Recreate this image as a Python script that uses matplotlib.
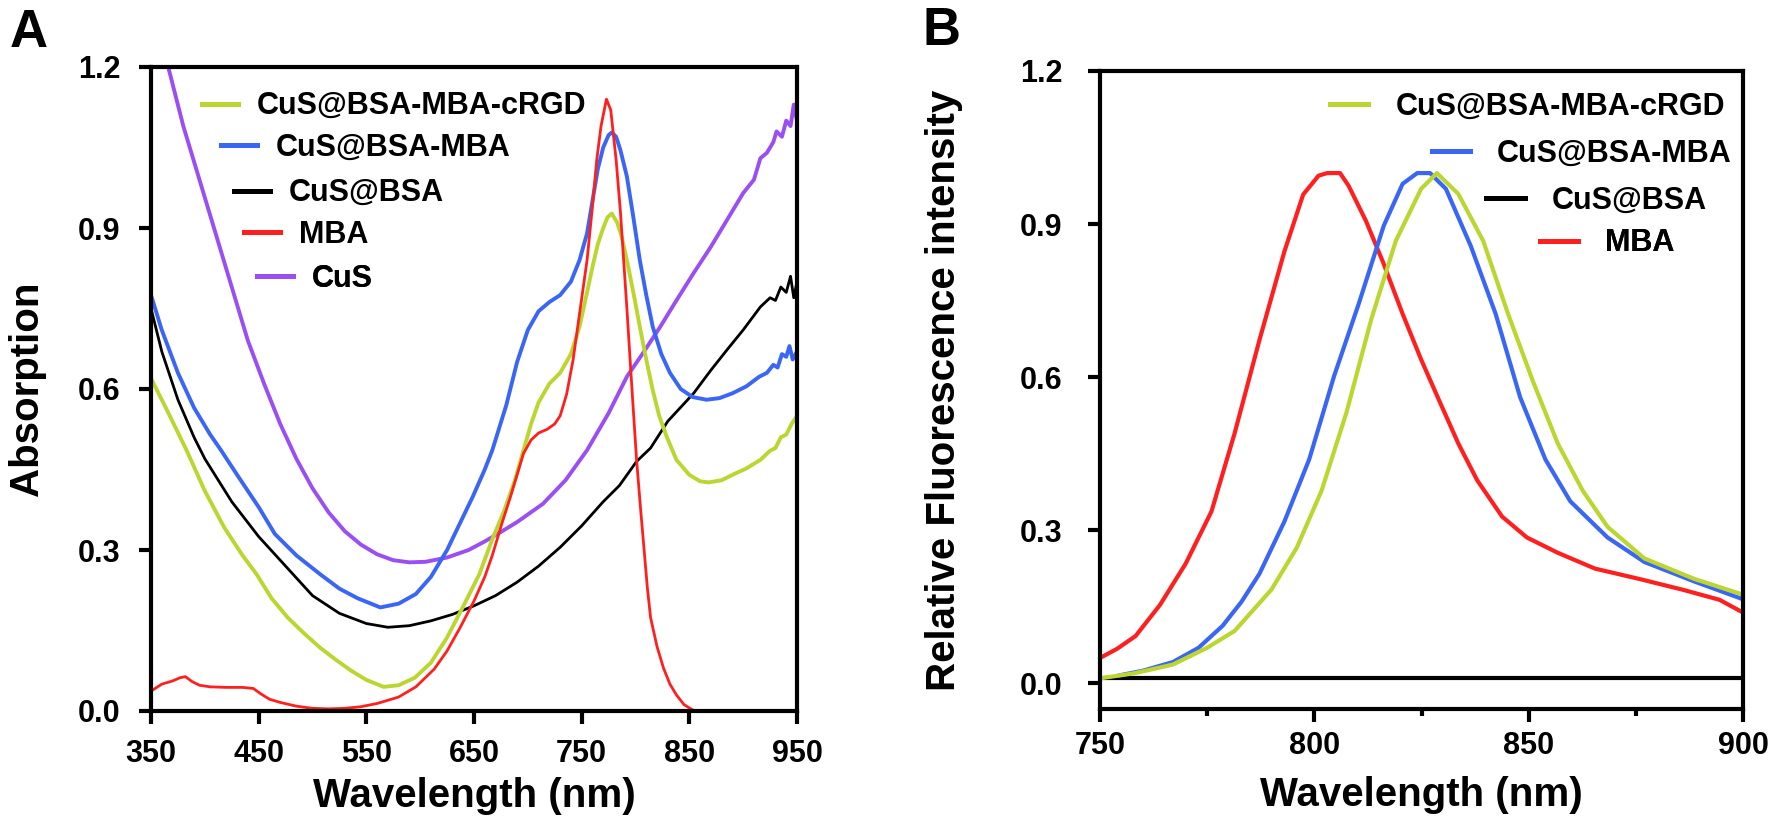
import matplotlib
matplotlib.use("Agg")
from matplotlib import pyplot as plt
from matplotlib.lines import Line2D
from matplotlib.ticker import MultipleLocator, FixedLocator

plt.rcParams['font.family'] = ['Liberation Sans', 'DejaVu Sans']
plt.rcParams['font.weight'] = 'bold'

green = "#bcd631"
blue = "#3a66f5"
purple = "#9b4ff2"
red = "#ff1f1f"
black = "#000000"

# ---- panel A: absorption spectra ----
cus_wl = [350, 358, 366, 380, 395, 410, 425, 440, 455, 470, 485, 500, 515, 530, 545, 560, 575, 590,
          605, 625, 645, 660, 672, 690, 714, 735, 755, 775, 792, 808, 823, 838, 854, 870, 885, 900,
          910, 916, 922, 928, 931, 936, 940, 944, 947, 950]
cus_abs = [1.33, 1.26, 1.20, 1.09, 0.99, 0.89, 0.79, 0.69, 0.61, 0.535, 0.47, 0.415, 0.37, 0.335, 0.31,
           0.292, 0.281, 0.277, 0.278, 0.286, 0.30, 0.316, 0.33, 0.352, 0.386, 0.43, 0.486, 0.555,
           0.623, 0.67, 0.716, 0.765, 0.816, 0.865, 0.915, 0.965, 0.99, 1.03, 1.04, 1.06, 1.08, 1.07,
           1.10, 1.09, 1.13, 1.10]

bsa_wl = [350, 360, 375, 390, 400, 425, 450, 475, 500, 525, 550, 570, 590, 610, 630, 650, 670, 690,
          710, 730, 750, 770, 785, 801, 814, 830, 854, 870, 885, 900, 916, 925, 930, 935, 940, 944,
          947, 950]
bsa_abs = [0.75, 0.67, 0.58, 0.51, 0.47, 0.39, 0.325, 0.27, 0.215, 0.182, 0.163, 0.156, 0.159, 0.168,
           0.18, 0.196, 0.215, 0.24, 0.27, 0.305, 0.345, 0.39, 0.42, 0.465, 0.49, 0.54, 0.592, 0.635,
           0.673, 0.71, 0.753, 0.77, 0.765, 0.79, 0.78, 0.81, 0.77, 0.80]

mba_wl_a = [350, 360, 370, 377, 382, 388, 395, 405, 420, 435, 445, 452, 460, 470, 485, 500, 515, 530,
            545, 560, 580, 596, 613, 625, 637, 650, 660, 667, 676, 684, 690, 696, 703, 710, 718, 725,
            730, 736, 742, 748, 755, 760, 764, 768, 773, 777, 782, 786, 789, 792, 795, 798, 801, 805,
            808, 811, 814, 820, 826, 832, 838, 845, 853, 857]
mba_abs = [0.037, 0.05, 0.056, 0.062, 0.064, 0.055, 0.048, 0.045, 0.044, 0.044, 0.042, 0.032, 0.022,
           0.016, 0.009, 0.005, 0.004, 0.005, 0.008, 0.014, 0.026, 0.045, 0.078, 0.112, 0.155, 0.205,
           0.25, 0.29, 0.35, 0.40, 0.44, 0.48, 0.505, 0.518, 0.525, 0.535, 0.55, 0.59, 0.654, 0.74,
           0.84, 0.94, 1.027, 1.09, 1.14, 1.12, 1.027, 0.93, 0.84, 0.75, 0.654, 0.56, 0.468, 0.37,
           0.30, 0.23, 0.174, 0.12, 0.08, 0.05, 0.03, 0.012, 0.002, 0.0]

mbaconj_wl = [350, 360, 375, 390, 405, 415, 430, 450, 465, 485, 507, 525, 542, 563, 580, 596, 610,
              625, 637, 649, 660, 667, 680, 690, 700, 710, 720, 730, 740, 748, 755, 760, 765, 770,
              775, 778, 782, 786, 792, 798, 804, 810, 816, 824, 832, 842, 853, 866, 878, 890, 903,
              915, 922, 928, 932, 936, 940, 943, 946, 950]
mbaconj_abs = [0.775, 0.71, 0.63, 0.565, 0.515, 0.486, 0.44, 0.38, 0.33, 0.29, 0.255, 0.228, 0.21,
               0.193, 0.2, 0.218, 0.25, 0.30, 0.35, 0.40, 0.45, 0.486, 0.57, 0.65, 0.71, 0.745,
               0.762, 0.775, 0.80, 0.84, 0.89, 0.95, 1.01, 1.05, 1.073, 1.078, 1.07, 1.045, 0.996,
               0.92, 0.84, 0.775, 0.716, 0.665, 0.63, 0.60, 0.585, 0.58, 0.583, 0.592, 0.605, 0.623,
               0.63, 0.645, 0.64, 0.665, 0.66, 0.68, 0.655, 0.67]

rgd_wl = [350, 365, 383, 400, 418, 435, 448, 462, 477, 492, 507, 522, 536, 550, 566, 580, 595, 610,
          625, 640, 655, 667, 678, 688, 696, 703, 710, 720, 730, 740, 748, 755, 760, 765, 770, 774,
          778, 783, 787, 792, 798, 804, 810, 816, 822, 829, 838, 850, 860, 868, 880, 890, 903, 916,
          925, 930, 935, 940, 945, 950]
rgd_abs = [0.62, 0.56, 0.486, 0.41, 0.342, 0.29, 0.255, 0.21, 0.174, 0.145, 0.118, 0.095, 0.075,
           0.058, 0.045, 0.048, 0.062, 0.09, 0.137, 0.195, 0.255, 0.32, 0.373, 0.43, 0.486, 0.535,
           0.575, 0.61, 0.63, 0.665, 0.716, 0.78, 0.827, 0.87, 0.90, 0.92, 0.927, 0.91, 0.885,
           0.84, 0.78, 0.716, 0.655, 0.598, 0.55, 0.511, 0.468, 0.44, 0.428, 0.426, 0.43, 0.44,
           0.452, 0.468, 0.485, 0.49, 0.51, 0.515, 0.535, 0.55]

abs_xticks = [350, 450, 550, 650, 750, 850, 950]

# ---- panel B: fluorescence spectra ----
fl_mba_wl = [750, 754, 758.3, 764, 770, 776, 781.4, 787.2, 793, 797.4, 801, 803, 806, 808, 812, 816,
             820.6, 825, 829.3, 833.6, 838, 843.8, 849.6, 856.8, 865.5, 875.7, 885.8, 894.5, 900]
fl_mba = [0.05, 0.068, 0.093, 0.154, 0.235, 0.337, 0.49, 0.673, 0.846, 0.958, 0.995, 1.0, 1.0, 0.975,
          0.907, 0.826, 0.724, 0.633, 0.551, 0.47, 0.398, 0.327, 0.286, 0.256, 0.225, 0.205, 0.184,
          0.164, 0.139]

fl_conj_wl = [754.6, 760, 767, 773, 778.6, 783, 787.2, 793, 798.8, 804.6, 810.4, 816.2, 820.6, 824,
              827, 830.7, 836.5, 842.3, 848, 853.9, 859.7, 868.4, 877, 888.6, 900]
fl_conj = [0.016, 0.025, 0.042, 0.07, 0.113, 0.16, 0.215, 0.317, 0.439, 0.602, 0.745, 0.897, 0.979,
           1.0, 1.0, 0.969, 0.857, 0.724, 0.561, 0.439, 0.357, 0.286, 0.238, 0.2, 0.165]

fl_rgd_wl = [750, 758, 767, 775, 781.4, 790, 795.9, 801.7, 807.5, 813.3, 819, 824.9, 828.6, 833.6,
             839.4, 845.2, 851, 856.8, 862.6, 868.4, 877, 888.6, 900]
fl_rgd = [0.01, 0.02, 0.037, 0.07, 0.103, 0.184, 0.266, 0.378, 0.531, 0.714, 0.867, 0.969, 1.0, 0.959,
          0.867, 0.724, 0.592, 0.47, 0.378, 0.307, 0.245, 0.205, 0.174]

fl_bsa_wl = [750, 900]
fl_bsa = [0.01, 0.01]

label_font = dict(family=['Liberation Sans', 'DejaVu Sans'], weight='bold', size=22)


def add_key(ax, label, color, x, y, hl, pad):
    h = Line2D([], [], color=color, lw=3.6)
    leg = ax.legend(handles=[h], labels=[label], loc='center left', bbox_to_anchor=(x, y),
                    frameon=False, borderpad=0, borderaxespad=0, handlelength=hl,
                    handletextpad=pad, prop=label_font)
    ax.add_artist(leg)


def style_axes(ax, xpad, ypad):
    for s in ax.spines.values():
        s.set_linewidth(3)
    ax.tick_params(axis='both', which='major', direction='out', length=9, width=3, labelsize=22,
                   top=False, right=False)
    ax.tick_params(axis='x', pad=xpad)
    ax.tick_params(axis='y', pad=ypad)
    for t in ax.get_xticklabels() + ax.get_yticklabels():
        t.set_fontweight('bold')


fig = plt.figure(figsize=(17.72, 8.18), dpi=100)
axA = fig.add_axes([151 / 1772, 107 / 818, 646 / 1772, 644 / 818])
axB = fig.add_axes([1100 / 1772, 109 / 818, 643 / 1772, 638 / 818])

# panel A
axA.plot(cus_wl, cus_abs, color=purple, lw=2.8)
axA.plot(bsa_wl, bsa_abs, color=black, lw=2.0)
axA.plot(mbaconj_wl, mbaconj_abs, color=blue, lw=2.8)
axA.plot(rgd_wl, rgd_abs, color=green, lw=2.8)
axA.plot(mba_wl_a, mba_abs, color=red, lw=2.0)
axA.set_xlim(350, 950)
axA.set_ylim(0, 1.2)
axA.xaxis.set_major_locator(FixedLocator(abs_xticks))
axA.yaxis.set_major_locator(MultipleLocator(0.3))
axA.yaxis.set_major_formatter(matplotlib.ticker.FormatStrFormatter('%.1f'))
style_axes(axA, 11, 13)
axA.set_xlabel("Wavelength (nm)", fontsize=29, fontweight='bold')
axA.set_ylabel("Absorption", fontsize=29, fontweight='bold')
axA.xaxis.set_label_coords(0.5, -0.1025)
axA.yaxis.set_label_coords(-0.1625, 0.5)

add_key(axA, "CuS@BSA-MBA-cRGD", green, 0.079, 0.939, 1.18, 0.62)
add_key(axA, "CuS@BSA-MBA", blue, 0.108, 0.874, 1.18, 0.62)
add_key(axA, "CuS@BSA", black, 0.128, 0.804, 1.18, 0.62)
add_key(axA, "MBA", red, 0.144, 0.739, 1.18, 0.62)
add_key(axA, "CuS", purple, 0.164, 0.671, 1.18, 0.62)

# panel B
axB.plot(fl_bsa_wl, fl_bsa, color=black, lw=3.0)
axB.plot(fl_mba_wl, fl_mba, color=red, lw=3.0)
axB.plot(fl_conj_wl, fl_conj, color=blue, lw=3.0)
axB.plot(fl_rgd_wl, fl_rgd, color=green, lw=3.0)
axB.set_xlim(750, 900)
axB.set_ylim(-0.05, 1.2)
axB.xaxis.set_major_locator(MultipleLocator(50))
axB.xaxis.set_minor_locator(FixedLocator([775, 825, 875]))
axB.yaxis.set_major_locator(FixedLocator([0.0, 0.3, 0.6, 0.9, 1.2]))
axB.yaxis.set_major_formatter(matplotlib.ticker.FormatStrFormatter('%.1f'))
style_axes(axB, 7, 18)
axB.tick_params(axis='x', which='minor', direction='out', length=5, width=3, top=False)
axB.set_xlabel("Wavelength (nm)", fontsize=29, fontweight='bold')
axB.set_ylabel("Relative Fluorescence intensity", fontsize=29, fontweight='bold')
axB.xaxis.set_label_coords(0.5, -0.105)
axB.yaxis.set_label_coords(-0.213, 0.5)

add_key(axB, "CuS@BSA-MBA-cRGD", green, 0.358, 0.944, 1.25, 0.88)
add_key(axB, "CuS@BSA-MBA", blue, 0.516, 0.870, 1.25, 0.88)
add_key(axB, "CuS@BSA", black, 0.601, 0.797, 1.25, 0.88)
add_key(axB, "MBA", red, 0.684, 0.730, 1.25, 0.88)

fig.text(0.0056, 1 - 47 / 818, "A", fontsize=38, fontweight='bold', va='baseline', ha='left')
fig.text(923 / 1772, 1 - 45 / 818, "B", fontsize=38, fontweight='bold', va='baseline', ha='left')

fig.savefig("out.png", dpi=100)
